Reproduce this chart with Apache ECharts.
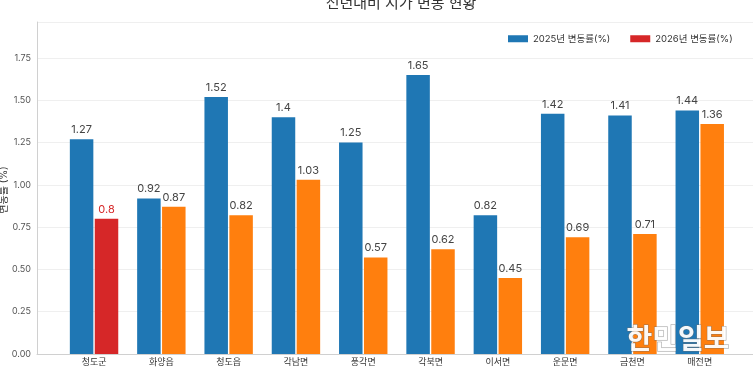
<!DOCTYPE html>
<html><head><meta charset="utf-8">
<script src="https://cdn.jsdelivr.net/npm/echarts@6/dist/echarts.min.js"></script>
<style>html,body{margin:0;padding:0;background:#fff}#c{width:753px;height:370px}</style>
</head><body><div id="c"></div>
<script>
const categories = ['청도군','화양읍','청도읍','각남면','풍각면','각북면','이서면','운문면','금천면','매전면'];
const values2025 = [1.27, 0.92, 1.52, 1.40, 1.25, 1.65, 0.82, 1.42, 1.41, 1.44];
const values2026 = [0.80, 0.87, 0.82, 1.03, 0.57, 0.62, 0.45, 0.69, 0.71, 1.36];
const yTicks = [0, 0.25, 0.5, 0.75, 1.0, 1.25, 1.5, 1.75];

const FONT = "Inter, 'Noto Sans CJK KR', sans-serif";
const BLUE = '#1f77b4', RED = '#d62728', ORANGE = '#ff7f0e';
const YMAX = 1.963;

const chart = echarts.init(document.getElementById('c'));
chart.setOption({
  animation: false,
  textStyle: { fontFamily: FONT },
  title: {
    text: '전년대비 지가 변동 현황', left: 396, top: -9, textAlign: 'center',
    textStyle: { fontSize: 15, fontWeight: 'normal', color: '#333', fontFamily: FONT }
  },
  legend: {
    orient: 'horizontal', left: 503, top: 29, width: 250,
    itemWidth: 20, itemHeight: 7, itemGap: 20,
    icon: 'rect',
    textStyle: { fontSize: 9.5, color: '#333', fontFamily: FONT },
    data: ['2025년 변동률(%)', '2026년 변동률(%)']
  },
  grid: [
    { left: 37, right: -4, top: 22, bottom: 16, containLabel: false },
    { left: 60.4, width: 673, top: 22, bottom: 16, containLabel: false }
  ],
  xAxis: [
    { gridIndex: 0, type: 'value', min: 0, max: 1,
      axisLine: { show: true, lineStyle: { color: '#d0d0d0' } },
      axisTick: { show: false }, axisLabel: { show: false }, splitLine: { show: false } },
    { gridIndex: 1, type: 'category', data: categories, boundaryGap: true,
      axisLine: { show: false }, axisTick: { show: false },
      axisLabel: { fontSize: 9, color: '#333', margin: 4, fontFamily: FONT } }
  ],
  yAxis: [
    { gridIndex: 0, type: 'value', min: 0, max: YMAX, interval: 0.25,
      axisLine: { show: true, lineStyle: { color: '#d0d0d0' } },
      axisTick: { show: false },
      axisLabel: { fontSize: 9, color: '#555', margin: 6, showMaxLabel: false,
        formatter: v => yTicks.some(t => Math.abs(t - v) < 1e-6) ? v.toFixed(2) : '' },
      splitLine: { show: true, lineStyle: { color: '#efefef', width: 1 } } },
    { gridIndex: 1, type: 'value', min: 0, max: YMAX, show: false, splitLine: { show: false } }
  ],
  series: [
    { name: '2025년 변동률(%)', type: 'bar', xAxisIndex: 1, yAxisIndex: 1,
      data: values2025, barWidth: 23.5, barGap: '6%',
      itemStyle: { color: BLUE },
      label: { show: true, position: 'top', distance: 4, fontSize: 11, color: '#444', fontFamily: FONT } },
    { name: '2026년 변동률(%)', type: 'bar', xAxisIndex: 1, yAxisIndex: 1,
      data: values2026.map((v, i) => i === 0
        ? { value: v, itemStyle: { color: RED }, label: { color: RED } }
        : { value: v, itemStyle: { color: ORANGE } }),
      barWidth: 23.5, barGap: '6%',
      itemStyle: { color: RED },
      label: { show: true, position: 'top', distance: 4, fontSize: 11, color: '#444', fontFamily: FONT } }
  ],
  graphic: [
    { type: 'text', x: 4, y: 190, rotation: Math.PI / 2, z: 50,
      style: { text: '변동률 (%)', fontSize: 10, fill: '#333', fontFamily: FONT,
        align: 'center', verticalAlign: 'middle' } },
    { type: 'text', left: 626, top: 324, z: 100,
      style: { text: '한민일보', fontSize: 28, fontWeight: 'bold', fontFamily: "'Noto Sans CJK KR', sans-serif",
        fill: 'rgba(255,255,255,0.95)', stroke: 'rgba(110,110,110,0.7)', lineWidth: 1,
        shadowColor: 'rgba(0,0,0,0.6)', shadowBlur: 3, shadowOffsetX: 2, shadowOffsetY: 2 } }
  ]
});
</script>
</body></html>
